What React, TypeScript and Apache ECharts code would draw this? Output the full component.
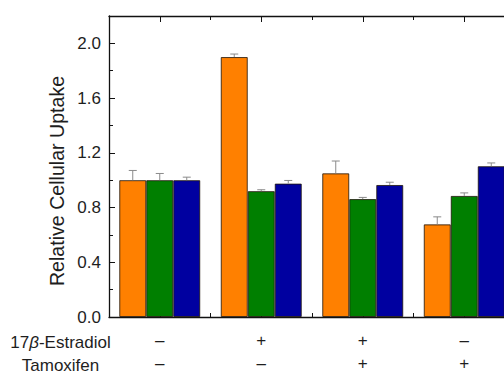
import React, { useEffect, useRef } from "react";
import * as echarts from "echarts";

// Treatment groups along the x axis
const categories = ["G1", "G2", "G3", "G4"];
const estradiolRow = ["–", "+", "+", "–"];
const tamoxifenRow = ["–", "–", "+", "+"];

// Relative cellular uptake (bar heights) and upper error-bar ends
const orangeValues = [1.0, 1.9, 1.05, 0.677];
const orangeErrTop = [1.071, 1.922, 1.14, 0.732];
const greenValues = [1.0, 0.92, 0.862, 0.885];
const greenErrTop = [1.049, 0.93, 0.874, 0.907];
const blueValues = [1.0, 0.975, 0.965, 1.102];
const blueErrTop = [1.022, 0.998, 0.985, 1.126];

const yTicks = [0, 0.4, 0.8, 1.2, 1.6, 2.0];

const FONT = '"Liberation Sans", Arial, Helvetica, sans-serif';
const TEXT = "#1e1e1e";
const BAR_W = 27;

export default function App() {
  const ref = useRef<HTMLDivElement>(null);

  useEffect(() => {
    if (!ref.current) return;
    const chart = echarts.init(ref.current, null, { renderer: "svg" });

    const errorSeries = (values: number[], tops: number[], offset: number) => ({
      type: "custom",
      xAxisIndex: 0,
      yAxisIndex: 0,
      z: 5,
      data: values.map((v, i) => [i, tops[i], v]),
      renderItem: (params: any, api: any) => {
        const i = api.value(0);
        const top = api.coord([i, api.value(1)]);
        const base = api.coord([i, api.value(2)]);
        const x = top[0] + offset;
        const style = { stroke: "#8a8a8a", lineWidth: 1 };
        return {
          type: "group",
          children: [
            { type: "line", shape: { x1: x, y1: base[1], x2: x, y2: top[1] }, style },
            { type: "line", shape: { x1: x - 4, y1: top[1], x2: x + 4, y2: top[1] }, style },
          ],
        };
      },
    });

    const barSeries = (values: number[], color: string) => ({
      type: "bar",
      xAxisIndex: 0,
      yAxisIndex: 0,
      data: values,
      barWidth: BAR_W,
      barGap: "0%",
      itemStyle: { color, borderColor: "rgba(30,20,10,0.8)", borderWidth: 1 },
    });

    const baseX = {
      type: "category",
      data: categories,
      boundaryGap: true,
      splitLine: { show: false },
    };

    chart.setOption({
      animation: false,
      backgroundColor: "#ffffff",
      grid: {
        left: 109,
        top: 16,
        width: 406,
        height: 301,
        containLabel: false,
        outerBoundsMode: "none",
      },
      xAxis: [
        {
          ...baseX,
          position: "bottom",
          axisLine: { show: true, lineStyle: { color: "#111", width: 1.3 } },
          axisTick: { show: true, inside: true, length: 4, alignWithLabel: false, lineStyle: { color: "#111" } },
          axisLabel: {
            show: true,
            margin: 12,
            fontSize: 17,
            lineHeight: 23,
            color: TEXT,
            fontFamily: FONT,
            formatter: (_v: string, i: number) => `${estradiolRow[i]}\n${tamoxifenRow[i]}`,
          },
        },
        {
          ...baseX,
          position: "bottom",
          axisLine: { show: false },
          axisTick: { show: true, inside: true, length: 6, alignWithLabel: true, lineStyle: { color: "#111" } },
          axisLabel: { show: false },
        },
        {
          ...baseX,
          position: "top",
          axisLine: { show: true, lineStyle: { color: "#111", width: 1.3 } },
          axisTick: { show: true, inside: true, length: 4, alignWithLabel: false, lineStyle: { color: "#111" } },
          axisLabel: { show: false },
        },
        {
          ...baseX,
          position: "top",
          axisLine: { show: false },
          axisTick: { show: true, inside: true, length: 6, alignWithLabel: true, lineStyle: { color: "#111" } },
          axisLabel: { show: false },
        },
      ],
      yAxis: [
        {
          type: "value",
          position: "left",
          min: 0,
          max: 2.2,
          interval: 0.4,
          splitLine: { show: false },
          axisLine: { show: true, lineStyle: { color: "#111", width: 1.3 } },
          axisTick: { show: true, inside: true, length: 6, lineStyle: { color: "#111" } },
          minorTick: { show: true, splitNumber: 2, length: 4, lineStyle: { color: "#111" } },
          minorSplitLine: { show: false },
          axisLabel: {
            show: true,
            margin: 8,
            fontSize: 17,
            color: TEXT,
            fontFamily: FONT,
            showMaxLabel: false,
            formatter: (v: number) => (yTicks.some((t) => Math.abs(t - v) < 1e-6) ? v.toFixed(1) : ""),
          },
        },
      ],
      series: [
        barSeries(orangeValues, "#ff8000"),
        barSeries(greenValues, "#007f00"),
        barSeries(blueValues, "#0000a0"),
        errorSeries(orangeValues, orangeErrTop, -BAR_W),
        errorSeries(greenValues, greenErrTop, 0),
        errorSeries(blueValues, blueErrTop, BAR_W),
      ],
      graphic: [
        {
          type: "text",
          x: 57,
          y: 181,
          rotation: Math.PI / 2,
          style: {
            text: "Relative Cellular Uptake",
            fontSize: 19.6,
            fontFamily: FONT,
            fill: TEXT,
            align: "center",
            verticalAlign: "middle",
          },
        },
        {
          type: "text",
          x: 60.5,
          y: 342,
          style: {
            text: "{n|17}{b|β}{n|-Estradiol}",
            align: "center",
            verticalAlign: "middle",
            rich: {
              n: { fontSize: 17, fontFamily: FONT, fill: TEXT },
              b: { fontSize: 17, fontFamily: FONT, fontStyle: "italic", fill: TEXT },
            },
          },
        },
        {
          type: "text",
          x: 60.5,
          y: 365,
          style: {
            text: "Tamoxifen",
            fontSize: 17,
            fontFamily: FONT,
            fill: TEXT,
            align: "center",
            verticalAlign: "middle",
          },
        },
      ],
    });

    return () => chart.dispose();
  }, []);

  return (
    <div
      ref={ref}
      style={{ position: "fixed", left: 0, top: 0, width: 504, height: 373, background: "#fff" }}
    />
  );
}
